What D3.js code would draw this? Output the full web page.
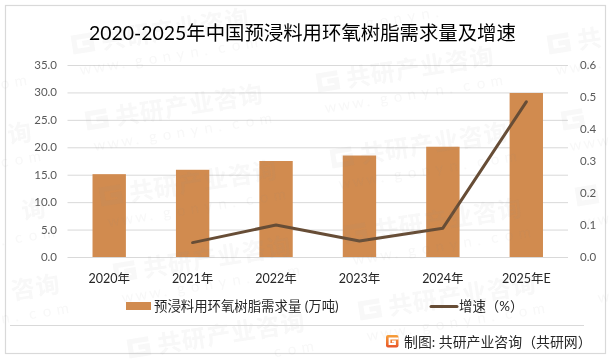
<!DOCTYPE html>
<html>
<head>
<meta charset="utf-8">
<script src="https://cdn.jsdelivr.net/npm/d3@7"></script>
<style>
  html, body { margin: 0; padding: 0; background: #fff; }
  svg { display: block; font-family: Lato, "Noto Sans CJK SC", sans-serif; }
</style>
</head>
<body>
<div id="chart"></div>
<script>
const years = ["2020年", "2021年", "2022年", "2023年", "2024年", "2025年E"];
const demand = [15.1, 15.9, 17.5, 18.5, 20.1, 29.9];
const growth = [null, 0.045, 0.1, 0.05, 0.09, 0.485];
const leftTicks = [0, 5, 10, 15, 20, 25, 30, 35];
const rightTicks = [0, 0.1, 0.2, 0.3, 0.4, 0.5, 0.6];

const width = 615, height = 361;
const plot = { left: 67.5, right: 568, top: 65, bottom: 257 };

const svg = d3.select("#chart").append("svg")
  .attr("width", width)
  .attr("height", height);

// frame
svg.append("rect")
  .attr("x", 5.5).attr("y", 5.5)
  .attr("width", 600).attr("height", 348)
  .attr("fill", "#fff")
  .attr("stroke", "#d9d9d9")
  .attr("stroke-width", 1.2);

const x = d3.scaleBand().domain(years).range([plot.left, plot.right])
  .paddingInner(0.6).paddingOuter(0.3);
const xPoint = d => x(d) + x.bandwidth() / 2;
const yLeft = d3.scaleLinear().domain([0, 35]).range([plot.bottom, plot.top]);
const yRight = d3.scaleLinear().domain([0, 0.6]).range([plot.bottom, plot.top]);

// gridlines
svg.append("g").selectAll("line")
  .data(leftTicks)
  .enter().append("line")
  .attr("x1", plot.left).attr("x2", plot.right)
  .attr("y1", d => yLeft(d) + 0.5).attr("y2", d => yLeft(d) + 0.5)
  .attr("stroke", "#d9d9d9")
  .attr("stroke-width", 1);

// bars
svg.append("g").selectAll("rect")
  .data(demand)
  .enter().append("rect")
  .attr("x", (d, i) => x(years[i]))
  .attr("y", d => yLeft(d))
  .attr("width", x.bandwidth())
  .attr("height", d => plot.bottom - yLeft(d))
  .attr("fill", "#d18b4f");

// growth line
const line = d3.line()
  .defined(d => d !== null)
  .x((d, i) => xPoint(years[i]))
  .y(d => yRight(d));

svg.append("path")
  .datum(growth)
  .attr("fill", "none")
  .attr("stroke", "#674d36")
  .attr("stroke-width", 3)
  .attr("stroke-linecap", "round")
  .attr("stroke-linejoin", "round")
  .attr("d", line);

// watermark, placed glyph by glyph so nothing hangs over the page edge
const wm = svg.append("g").attr("pointer-events", "none").attr("fill", "#8c8c8c").attr("opacity", 0.065);
const rad = -9 * Math.PI / 180;
function wmGlyphs(str, ox, oy, startX, baseY, adv, size, weight) {
  Array.from(str).forEach((ch, k) => {
    const lx = startX + k * adv;
    const px = ox + lx * Math.cos(rad) - baseY * Math.sin(rad);
    const py = oy + lx * Math.sin(rad) + baseY * Math.cos(rad);
    if (px < 1 || px + size > width - 1 || py - size < 1 || py + 2 > height - 1) return;
    wm.append("text")
      .attr("transform", `translate(${px},${py}) rotate(-9)`)
      .attr("font-size", size)
      .attr("font-weight", weight)
      .text(ch);
  });
}
for (let i = -1; i < 4; i++) {
  for (let j = -2; j < 5; j++) {
    const wx = 87 + i * 231 + j * 14;
    const wy = 130 - i * 38 + j * 76;
    if (wx > 0 && wx < width - 24 && wy > 24 && wy < height - 2) {
      wm.append("path")
        .attr("transform", `translate(${wx},${wy}) rotate(-9)`)
        .attr("d", "M22,-16H3V-2H20V-9H11")
        .attr("fill", "none")
        .attr("stroke", "#8c8c8c")
        .attr("stroke-width", 5);
    }
    wmGlyphs("共研产业咨询", wx, wy, 30, 0, 25, 24, 700);
    wmGlyphs("www.gonyn.com", wx, wy, 4, 22, 14, 15, 400);
  }
}

// title
svg.append("text")
  .attr("x", 302.5).attr("y", 40)
  .attr("text-anchor", "middle")
  .attr("font-size", 19.4)
  .attr("fill", "#000")
  .text("2020-2025年中国预浸料用环氧树脂需求量及增速");

// left ticks
svg.append("g").selectAll("text")
  .data(leftTicks)
  .enter().append("text")
  .attr("x", 57)
  .attr("y", d => yLeft(d) + 4)
  .attr("text-anchor", "end")
  .attr("font-size", 11.5)
  .attr("fill", "#595959")
  .text(d => d3.format(".1f")(d));

// right ticks
svg.append("g").selectAll("text")
  .data(rightTicks)
  .enter().append("text")
  .attr("x", 580)
  .attr("y", d => yRight(d) + 4)
  .attr("font-size", 11.5)
  .attr("fill", "#595959")
  .text(d => d3.format(".1f")(d));

// category labels
svg.append("g").selectAll("text")
  .data(years)
  .enter().append("text")
  .attr("x", d => xPoint(d))
  .attr("y", 283)
  .attr("text-anchor", "middle")
  .attr("font-size", 12.5)
  .attr("fill", "#262626")
  .text(d => d);

// legend
svg.append("rect")
  .attr("x", 126).attr("y", 302)
  .attr("width", 25).attr("height", 8)
  .attr("fill", "#d18b4f");
svg.append("text")
  .attr("x", 154).attr("y", 311)
  .attr("font-size", 13.4)
  .attr("fill", "#262626")
  .text("预浸料用环氧树脂需求量 (万吨)");
svg.append("line")
  .attr("x1", 431).attr("x2", 457)
  .attr("y1", 306.5).attr("y2", 306.5)
  .attr("stroke", "#674d36")
  .attr("stroke-width", 3)
  .attr("stroke-linecap", "round");
svg.append("text")
  .attr("x", 459).attr("y", 311)
  .attr("font-size", 13.4)
  .attr("fill", "#262626")
  .text("增速（%）");

// footer
svg.append("line")
  .attr("x1", 10).attr("x2", 584)
  .attr("y1", 325.5).attr("y2", 325.5)
  .attr("stroke", "#d9d9d9");

const grad = svg.append("defs").append("linearGradient")
  .attr("id", "logoGrad").attr("x1", 0).attr("y1", 0).attr("x2", 0).attr("y2", 1);
grad.append("stop").attr("offset", 0).attr("stop-color", "#f7a13a");
grad.append("stop").attr("offset", 1).attr("stop-color", "#e8552a");

const logo = svg.append("g").attr("transform", "translate(386,335)");
logo.append("rect")
  .attr("width", 12.5).attr("height", 12.5).attr("rx", 2)
  .attr("fill", "url(#logoGrad)");
logo.append("path")
  .attr("d", "M12.5,3.5H3.5V9H9V6.5H6")
  .attr("fill", "none")
  .attr("stroke", "#fff")
  .attr("stroke-width", 1.8);

svg.append("text")
  .attr("x", 404).attr("y", 347)
  .attr("font-size", 13.9)
  .attr("fill", "#262626")
  .text("制图: 共研产业咨询（共研网）");
</script>
</body>
</html>
